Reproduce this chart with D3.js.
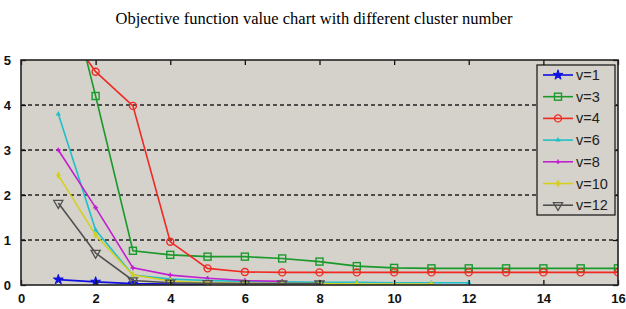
<!DOCTYPE html>
<meta charset="utf-8">
<style>
html, body { margin: 0; background: #fff; }
svg { display: block; }
.title { font: 16.5px "Liberation Serif", serif; }
.tick text { font: bold 13px "Liberation Sans", Arial, sans-serif; }
.legend text { font: 14.5px "Liberation Sans", Arial, sans-serif; }
.grid line { stroke: #222; stroke-width: 1.3px; stroke-dasharray: 4 3; }
</style>
<svg width="626" height="309"></svg>
<script src="https://d3js.org/d3.v7.min.js"></script>
<script>

var names = ['v=1', 'v=3', 'v=4', 'v=6', 'v=8', 'v=10', 'v=12'];
var colors = ['#1010e0', '#1a9a2a', '#ee2a22', '#20c0c8', '#c020d0', '#d4d020', '#505050'];
var symbols = ['star', 'square', 'circle', 'tri', 'plus', 'diamond', 'tridown'];

var v1 = [[1, 0.12], [2, 0.07], [3, 0.03], [4, 0.02], [5, 0.01]];
var v3 = [[1, 7.5], [2, 4.2], [3, 0.76], [4, 0.67], [5, 0.63], [6, 0.63], [7, 0.59], [8, 0.52],
  [9, 0.42], [10, 0.38], [11, 0.37], [12, 0.37], [13, 0.37], [14, 0.37], [15, 0.37], [16, 0.37]];
var v4 = [[1, 5.9], [2, 4.74], [3, 3.98], [4, 0.96], [5, 0.37], [6, 0.29], [7, 0.28], [8, 0.28],
  [9, 0.28], [10, 0.28], [11, 0.28], [12, 0.28], [13, 0.28], [14, 0.28], [15, 0.28], [16, 0.28]];
var v6 = [[1, 3.8], [2, 1.22], [3, 0.22], [4, 0.13], [5, 0.1], [6, 0.08], [7, 0.07], [8, 0.06],
  [9, 0.06], [10, 0.05], [11, 0.05], [12, 0.05]];
var v8 = [[1, 3.0], [2, 1.72], [3, 0.38], [4, 0.22], [5, 0.15], [6, 0.1], [7, 0.08]];
var v10 = [[1, 2.44], [2, 1.11], [3, 0.22], [4, 0.09], [5, 0.05], [6, 0.04], [7, 0.03], [8, 0.03],
  [9, 0.02], [10, 0.02], [11, 0.02]];
var v12 = [[1, 1.82], [2, 0.71], [3, 0.1], [4, 0.05], [5, 0.04], [6, 0.03], [7, 0.03], [8, 0.03]];
var series = [v1, v3, v4, v6, v8, v10, v12];

var xTicks = [0, 2, 4, 6, 8, 10, 12, 14, 16];
var yTicks = [0, 1, 2, 3, 4, 5];
var title = 'Objective function value chart with different cluster number';

var margin = {left: 21, right: 8, top: 60, bottom: 24};
var width = 626, height = 309;

var svg = d3.select('svg');

var x = d3.scaleLinear().domain([0, 16]).range([margin.left, width - margin.right]);
var y = d3.scaleLinear().domain([0, 5]).range([height - margin.bottom, margin.top]);

svg.append('text')
  .attr('class', 'title')
  .attr('x', 314)
  .attr('y', 24)
  .attr('text-anchor', 'middle')
  .text(title);

svg.append('rect')
  .attr('x', x(0)).attr('y', y(5))
  .attr('width', x(16) - x(0)).attr('height', y(0) - y(5))
  .attr('fill', '#d5d1cb');

svg.append('g')
  .attr('class', 'grid')
  .selectAll('line')
  .data(yTicks.filter(function (d) { return d > 0 && d < 5; }))
  .enter().append('line')
  .attr('x1', x(0)).attr('x2', x(16))
  .attr('y1', function (d) { return y(d); })
  .attr('y2', function (d) { return y(d); });

svg.append('clipPath').attr('id', 'clip')
  .append('rect')
  .attr('x', x(0)).attr('y', y(5))
  .attr('width', x(16) - x(0)).attr('height', y(0) - y(5));

var line = d3.line()
  .x(function (d) { return x(d[0]); })
  .y(function (d) { return y(d[1]); });

function marker (g, sym, color, cx, cy) {
  var t = 'translate(' + cx + ',' + cy + ')';
  if (sym === 'star') {
    g.append('path').attr('d', d3.symbol(d3.symbolStar, 30)()).attr('transform', t)
      .attr('fill', color).attr('stroke', color);
  } else if (sym === 'square') {
    g.append('rect').attr('x', cx - 3.5).attr('y', cy - 3.5).attr('width', 7).attr('height', 7)
      .attr('fill', 'none').attr('stroke', color).attr('stroke-width', 1.4);
  } else if (sym === 'circle') {
    g.append('circle').attr('cx', cx).attr('cy', cy).attr('r', 3.5)
      .attr('fill', 'none').attr('stroke', color).attr('stroke-width', 1.4);
  } else if (sym === 'tri') {
    g.append('path').attr('d', d3.symbol(d3.symbolTriangle, 12)()).attr('transform', t)
      .attr('fill', color);
  } else if (sym === 'plus') {
    g.append('path').attr('d', d3.symbol(d3.symbolCross, 12)()).attr('transform', t)
      .attr('fill', color);
  } else if (sym === 'diamond') {
    g.append('path').attr('d', d3.symbol(d3.symbolDiamond, 18)()).attr('transform', t)
      .attr('fill', color);
  } else if (sym === 'tridown') {
    g.append('path').attr('d', d3.symbol(d3.symbolTriangle, 36)()).attr('transform', t + ' rotate(180)')
      .attr('fill', 'none').attr('stroke', color).attr('stroke-width', 1.3);
  }
}

var plot = svg.append('g').attr('clip-path', 'url(#clip)');

series.forEach(function (s, i) {
  var g = plot.append('g');
  g.append('path')
    .datum(s)
    .attr('d', line)
    .attr('fill', 'none')
    .attr('stroke', colors[i])
    .attr('stroke-width', 1.6);
  s.forEach(function (d) {
    marker(g, symbols[i], colors[i], x(d[0]), y(d[1]));
  });
});

// axes with inward ticks
svg.append('g')
  .attr('transform', 'translate(0,' + y(0) + ')')
  .call(d3.axisBottom(x).tickValues(xTicks).tickSize(-5).tickPadding(9).tickFormat(d3.format('d')))
  .call(function (g) { g.select('.domain').remove(); });

svg.append('g')
  .attr('transform', 'translate(0,' + y(5) + ')')
  .call(d3.axisTop(x).tickValues(xTicks).tickSize(-5).tickFormat(''))
  .call(function (g) { g.select('.domain').remove(); });

svg.append('g')
  .attr('transform', 'translate(' + x(0) + ',0)')
  .call(d3.axisLeft(y).tickValues(yTicks).tickSize(-5).tickPadding(10).tickFormat(d3.format('d')))
  .call(function (g) { g.select('.domain').remove(); });

svg.append('g')
  .attr('transform', 'translate(' + x(16) + ',0)')
  .call(d3.axisRight(y).tickValues(yTicks).tickSize(-5).tickFormat(''))
  .call(function (g) { g.select('.domain').remove(); });

svg.selectAll('.tick line').attr('stroke', '#111').attr('stroke-width', 1.3);
svg.selectAll('.tick text').attr('fill', '#111');

svg.append('rect')
  .attr('x', x(0)).attr('y', y(5))
  .attr('width', x(16) - x(0)).attr('height', y(0) - y(5))
  .attr('fill', 'none')
  .attr('stroke', '#222')
  .attr('stroke-width', 1.6);

// legend
var legend = svg.append('g').attr('class', 'legend');
legend.append('rect')
  .attr('x', 537).attr('y', 65)
  .attr('width', 78).attr('height', 150)
  .attr('fill', '#d5d1cb')
  .attr('stroke', '#111')
  .attr('stroke-width', 1.2);

names.forEach(function (n, i) {
  var ly = 75 + i * 21.7;
  legend.append('line')
    .attr('x1', 543).attr('x2', 573)
    .attr('y1', ly).attr('y2', ly)
    .attr('stroke', colors[i]).attr('stroke-width', 1.6);
  marker(legend, symbols[i], colors[i], 558, ly);
  legend.append('text')
    .attr('x', 576).attr('y', ly + 5)
    .attr('fill', '#222')
    .text(n);
});

</script>
